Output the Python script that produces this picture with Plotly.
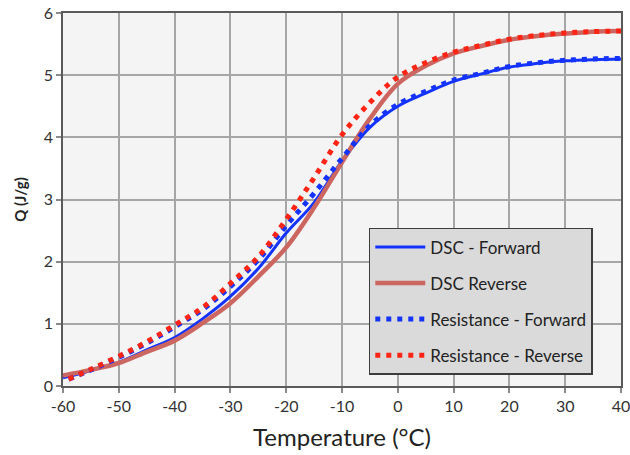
import plotly.graph_objects as go

# Temperature grid (°C) for the DSC curves
temp = [-60, -55, -50, -45, -40, -35, -30, -25, -20, -15, -10, -5, 0, 5, 10, 15, 20, 25, 30, 35, 40]

# Heat Q (J/g) measured by DSC
dsc_forward = [0.13, 0.25, 0.38, 0.58, 0.78, 1.08, 1.44, 1.89, 2.46, 2.95, 3.62, 4.16, 4.50,
               4.71, 4.90, 5.02, 5.13, 5.19, 5.23, 5.25, 5.26]
dsc_reverse = [0.17, 0.26, 0.37, 0.55, 0.73, 1.01, 1.33, 1.76, 2.23, 2.87, 3.60, 4.30, 4.86,
               5.15, 5.35, 5.47, 5.57, 5.63, 5.67, 5.70, 5.71]

# Heat Q (J/g) derived from resistance measurements
temp_res = [-59, -55, -50, -45, -40, -35, -30, -25, -20, -15, -10, -5, 0, 5, 10, 15, 20, 25, 30, 35, 40]
res_forward = [0.11, 0.26, 0.46, 0.69, 0.95, 1.23, 1.60, 2.03, 2.58, 3.10, 3.66, 4.19, 4.53,
               4.74, 4.92, 5.03, 5.14, 5.20, 5.24, 5.26, 5.27]
res_reverse = [0.11, 0.27, 0.48, 0.71, 0.98, 1.26, 1.65, 2.08, 2.68, 3.35, 4.04, 4.56, 4.97,
               5.20, 5.37, 5.48, 5.58, 5.64, 5.68, 5.70, 5.71]

x_ticks = [-60, -50, -40, -30, -20, -10, 0, 10, 20, 30, 40]
y_ticks = [0, 1, 2, 3, 4, 5, 6]

FONT = "Lato"
BLUE = "#1433ff"
BROWN = "#cc6660"
RED = "#ff2414"
DOTS = "5px,6px"

fig = go.Figure()
fig.add_trace(go.Scatter(x=temp, y=dsc_forward, name="DSC - Forward", mode="lines",
                         line=dict(color=BLUE, width=3, shape="spline"), legendgroup="a"))
fig.add_trace(go.Scatter(x=temp, y=dsc_reverse, name="DSC Reverse", mode="lines",
                         line=dict(color=BROWN, width=4.5, shape="spline"), legendgroup="b"))
fig.add_trace(go.Scatter(x=temp_res, y=res_forward, name="Resistance - Forward", mode="lines",
                         line=dict(color=BLUE, width=5, dash=DOTS, shape="spline"), legendgroup="c"))
fig.add_trace(go.Scatter(x=temp_res, y=res_reverse, name="Resistance - Reverse", mode="lines",
                         line=dict(color=RED, width=5, dash=DOTS, shape="spline"), legendgroup="d"))

axis_common = dict(
    showline=True, linecolor="#5a5a5a", linewidth=1.5, mirror=True,
    showgrid=True, gridcolor="#a6a6a6", gridwidth=1.5,
    ticks="outside", ticklen=5, tickcolor="#8a8a8a", tickwidth=1.5,
    zeroline=False, automargin=False, ticklabeloverflow="allow",
    tickfont=dict(family=FONT, size=16, color="#333333"),
)

fig.update_xaxes(range=[-60, 40], tickvals=x_ticks, ticktext=[str(v) for v in x_ticks],
                 title=dict(text="Temperature (°C)", font=dict(family=FONT, size=24, color="#222222"),
                            standoff=15),
                 **axis_common)
fig.update_yaxes(range=[0, 6], tickvals=y_ticks, ticktext=[str(v) for v in y_ticks],
                 title=dict(text="<b>Q (J/g)</b>", font=dict(family=FONT, size=15, color="#222222"),
                            standoff=14),
                 **axis_common)

fig.update_layout(
    width=630, height=455,
    margin=dict(l=63, r=9, t=13, b=69),
    paper_bgcolor="white",
    plot_bgcolor="#f4f4f4",
    legend=dict(
        x=0.548, y=0.424, xanchor="left", yanchor="top",
        bgcolor="#dadada", bordercolor="#3c3c3c", borderwidth=1.5,
        font=dict(family=FONT, size=17, color="#222222"),
        itemwidth=50, tracegroupgap=11, traceorder="grouped",
    ),
)

fig.write_html("out.html")
